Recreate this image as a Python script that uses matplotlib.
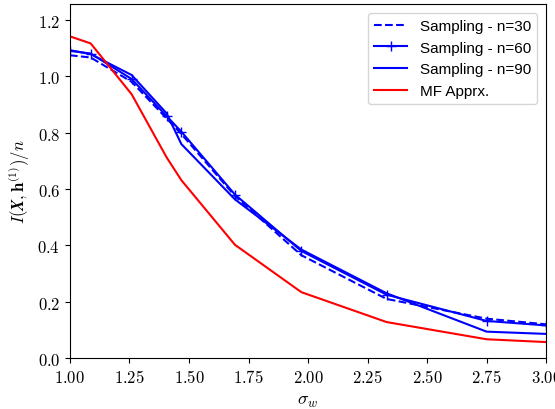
import matplotlib
matplotlib.use("Agg")
import matplotlib.pyplot as plt

plt.rcParams['mathtext.fontset'] = 'cm'

sigma_w = [1.0, 1.087, 1.259, 1.406, 1.468, 1.693, 1.972, 2.33, 2.75, 3.0]
n30 = [1.074, 1.066, 0.980, 0.850, 0.795, 0.575, 0.365, 0.210, 0.140, 0.120]
n60 = [1.090, 1.080, 0.990, 0.858, 0.803, 0.580, 0.380, 0.225, 0.132, 0.116]
n90 = [1.092, 1.078, 1.004, 0.868, 0.759, 0.563, 0.385, 0.230, 0.094, 0.086]
mf = [1.141, 1.116, 0.936, 0.712, 0.631, 0.402, 0.234, 0.128, 0.067, 0.057]

xticks = [1.00, 1.25, 1.50, 1.75, 2.00, 2.25, 2.50, 2.75, 3.00]
xticklabels = ['$1.00$', '$1.25$', '$1.50$', '$1.75$', '$2.00$', '$2.25$', '$2.50$', '$2.75$', '$3.00$']
yticks = [0.0, 0.2, 0.4, 0.6, 0.8, 1.0, 1.2]
yticklabels = ['$0.0$', '$0.2$', '$0.4$', '$0.6$', '$0.8$', '$1.0$', '$1.2$']

fig = plt.figure(figsize=(5.55, 4.10), dpi=100)
ax = fig.add_axes([0.126, 0.124, 0.858, 0.864])

ax.plot(sigma_w, n30, color='blue', linestyle='--', linewidth=1.5, label='Sampling - n=30')
ax.plot(sigma_w, n60, color='blue', linestyle='-', marker='+', markersize=7, linewidth=1.5, label='Sampling - n=60')
ax.plot(sigma_w, n90, color='blue', linestyle='-', linewidth=1.5, label='Sampling - n=90')
ax.plot(sigma_w, mf, color='red', linestyle='-', linewidth=1.5, label='MF Apprx.')

ax.set_xlim(1.0, 3.0)
ax.set_ylim(0.0, 1.256)
ax.set_xticks(xticks)
ax.set_xticklabels(xticklabels, fontsize=12)
ax.set_yticks(yticks)
ax.set_yticklabels(yticklabels, fontsize=12)
ax.set_xlabel(r'$\sigma_w$', fontsize=13)
ax.set_ylabel(r'$I(\mathbfit{X}, \mathbf{h}^{(1)})/n$', fontsize=12)
ax.yaxis.set_label_coords(-0.080, 0.5)

leg = ax.legend(loc='upper right', prop={'family': 'Liberation Sans', 'size': 11},
                handlelength=2.2, borderaxespad=0.6)

fig.savefig('out.png', dpi=100)
